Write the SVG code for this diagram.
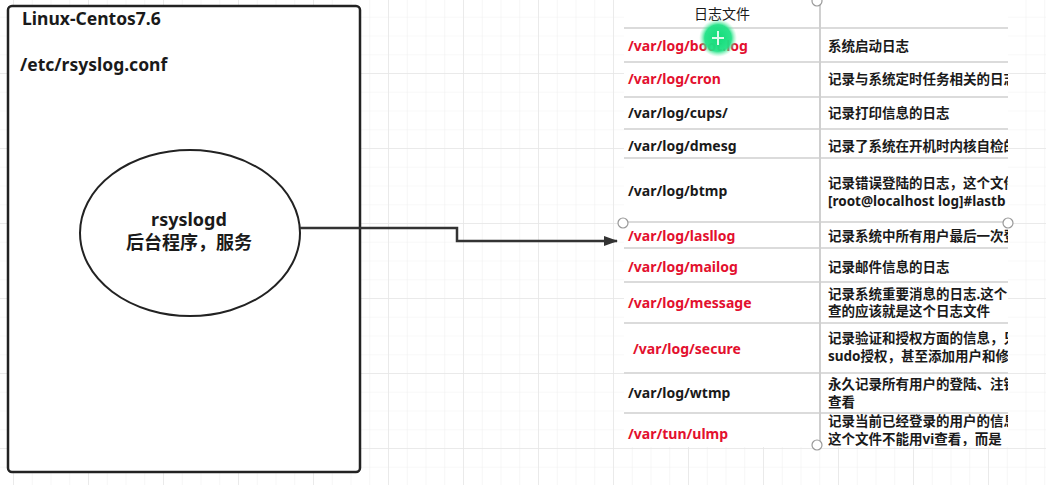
<svg xmlns="http://www.w3.org/2000/svg" width="1046" height="485" viewBox="0 0 1046 485">
<style>
text { font-family: "Noto Sans", "Noto Sans CJK SC", sans-serif; fill: #1a1a1a; }
.title { font-size: 17.5px; font-weight: bold; }
.ell { font-size: 18px; font-weight: bold; }
.p { font-size: 14px; font-weight: bold; }
.red { fill: #e3102e; }
.d { font-size: 13.5px; font-weight: bold; }
.row { stroke: #cfcfcf; stroke-width: 1.6; }
.handle { fill: #fff; stroke: #999; stroke-width: 1.2; }
</style>
<defs>
<pattern id="minor" x="13" y="-2" width="18.75" height="18.75" patternUnits="userSpaceOnUse">
<path d="M0,0 H18.75 M0,0 V18.75" stroke="#f1f1f1" stroke-width="1.2" fill="none"/>
</pattern>
<pattern id="major" x="13" y="-2" width="75" height="75" patternUnits="userSpaceOnUse">
<path d="M0,0 H75 M0,0 V75" stroke="#e6e6e6" stroke-width="1.4" fill="none"/>
</pattern>
<marker id="arrow" markerWidth="14" markerHeight="10" refX="13" refY="5" orient="auto" markerUnits="userSpaceOnUse">
<path d="M0,0 L14,5 L0,10 Z" fill="#333"/>
</marker>
<clipPath id="descClip"><rect x="822" y="28" width="186" height="418"/></clipPath>
<radialGradient id="glow">
<stop offset="0" stop-color="#12dc78" stop-opacity="1"/>
<stop offset="0.7" stop-color="#20e286" stop-opacity="0.95"/>
<stop offset="1" stop-color="#8af2bb" stop-opacity="0"/>
</radialGradient>
</defs>
<rect width="1046" height="485" fill="#fff"/>
<rect width="1046" height="485" fill="url(#minor)"/>
<rect width="1046" height="485" fill="url(#major)"/>

<g id="host">
<rect x="8" y="6" width="352" height="466" rx="4" fill="#fff" stroke="#222" stroke-width="2.5"/>
<text class="title" x="22" y="25">Linux-Centos7.6</text>
<text class="title" x="20" y="71">/etc/rsyslog.conf</text>
</g>

<g id="rsyslogd">
<ellipse cx="190" cy="233" rx="110" ry="83" fill="#fff" stroke="#222" stroke-width="2"/>
<text class="ell" x="189" y="226" text-anchor="middle">rsyslogd</text>
<text class="ell" x="189" y="249" text-anchor="middle">后台程序，服务</text>
</g>

<g id="connectors">
<path d="M300,228 H457 V241 H617" fill="none" stroke="#333" stroke-width="2.5" marker-end="url(#arrow)"/>
</g>

<g id="logtable">
<rect x="624" y="0" width="384" height="447" fill="#fff"/>
<line x1="820" y1="0" x2="820" y2="447" stroke="#c4c4c4" stroke-width="1.6"/>
<line class="row" x1="624" y1="28" x2="1008" y2="28"/>
<line class="row" x1="624" y1="62" x2="1008" y2="62"/>
<line class="row" x1="624" y1="97" x2="1008" y2="97"/>
<line class="row" x1="624" y1="129" x2="1008" y2="129"/>
<line class="row" x1="624" y1="158" x2="1008" y2="158"/>
<line class="row" x1="624" y1="222" x2="1008" y2="222"/>
<line class="row" x1="624" y1="248" x2="1008" y2="248"/>
<line class="row" x1="624" y1="282" x2="1008" y2="282"/>
<line class="row" x1="624" y1="323" x2="1008" y2="323"/>
<line class="row" x1="624" y1="373" x2="1008" y2="373"/>
<line class="row" x1="624" y1="413" x2="1008" y2="413"/>

<text x="722" y="19" font-size="14" text-anchor="middle">日志文件</text>

<text class="p red" x="628" y="51">/var/log/boot.log</text>
<text class="p red" x="628" y="84">/var/log/cron</text>
<text class="p" x="628" y="118">/var/log/cups/</text>
<text class="p" x="628" y="151">/var/log/dmesg</text>
<text class="p" x="628" y="196">/var/log/btmp</text>
<text class="p red" x="628" y="241">/var/log/lasllog</text>
<text class="p red" x="628" y="272">/var/log/mailog</text>
<text class="p red" x="628" y="308">/var/log/message</text>
<text class="p red" x="633" y="354">/var/log/secure</text>
<text class="p" x="628" y="398">/var/log/wtmp</text>
<text class="p red" x="628" y="439">/var/tun/ulmp</text>

<g clip-path="url(#descClip)">
<text class="d" x="828" y="51">系统启动日志</text>
<text class="d" x="828" y="84">记录与系统定时任务相关的日志</text>
<text class="d" x="828" y="118">记录打印信息的日志</text>
<text class="d" x="828" y="151">记录了系统在开机时内核自检的</text>
<text class="d" x="828" y="188">记录错误登陆的日志，这个文件</text>
<text class="d" x="828" y="206">[root@localhost log]#lastb</text>
<text class="d" x="828" y="241">记录系统中所有用户最后一次登</text>
<text class="d" x="828" y="272">记录邮件信息的日志</text>
<text class="d" x="828" y="299">记录系统重要消息的日志.这个</text>
<text class="d" x="828" y="316">查的应该就是这个日志文件</text>
<text class="d" x="828" y="343">记录验证和授权方面的信息，只</text>
<text class="d" x="828" y="361">sudo授权，甚至添加用户和修</text>
<text class="d" x="828" y="389">永久记录所有用户的登陆、注销</text>
<text class="d" x="828" y="407">查看</text>
<text class="d" x="828" y="426">记录当前已经登录的用户的信息</text>
<text class="d" x="828" y="444">这个文件不能用vi查看，而是</text>
</g>
</g>

<g id="selection-handles">
<circle class="handle" cx="817" cy="1" r="5"/>
<circle class="handle" cx="623" cy="223" r="5"/>
<circle class="handle" cx="1008" cy="223" r="5"/>
<circle class="handle" cx="817" cy="445" r="5"/>
</g>

<g id="cursor">
<circle cx="718" cy="38" r="19" fill="url(#glow)"/>
<path d="M718,31 V45 M712,38 H724" stroke="#fff" stroke-width="2" opacity="0.85"/>
</g>
</svg>
